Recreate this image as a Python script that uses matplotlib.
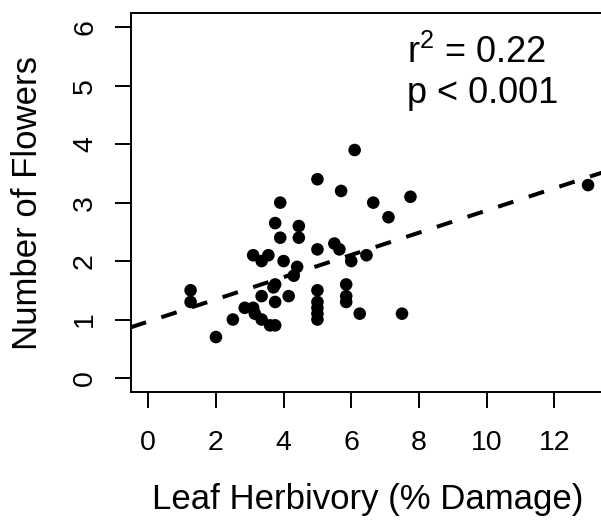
import matplotlib
matplotlib.use("Agg")
import matplotlib.pyplot as plt
import numpy as np

plt.rcParams['font.family'] = ['Liberation Sans', 'DejaVu Sans']
plt.rcParams['mathtext.fontset'] = 'custom'
plt.rcParams['mathtext.rm'] = 'Liberation Sans'
plt.rcParams['mathtext.it'] = 'Liberation Sans'
plt.rcParams['xtick.labelsize'] = 20.5
plt.rcParams['ytick.labelsize'] = 20.5

# leaf herbivory (% damage) and flower counts per plant
herbivory = [6.1, 5.0, 5.7, 3.9, 6.65, 7.75, 7.1, 3.75, 4.45, 3.9,
             4.45, 5.0, 5.5, 5.65, 3.1, 3.55, 3.35, 4.0, 6.0, 6.45,
             4.4, 4.3, 3.75, 3.7, 1.25, 1.25, 3.35, 4.15, 3.75, 5.0,
             5.0, 5.0, 5.0, 5.0, 5.85, 5.85, 5.85, 6.25, 7.5, 2.5,
             2.85, 3.1, 3.15, 3.35, 3.6, 3.75, 2.0, 13.0]
flowers = [3.9, 3.4, 3.2, 3.0, 3.0, 3.1, 2.75, 2.65, 2.6, 2.4,
           2.4, 2.2, 2.3, 2.2, 2.1, 2.1, 2.0, 2.0, 2.0, 2.1,
           1.9, 1.75, 1.6, 1.55, 1.5, 1.3, 1.4, 1.4, 1.3, 1.5,
           1.3, 1.2, 1.1, 1.0, 1.6, 1.4, 1.3, 1.1, 1.1, 1.0,
           1.2, 1.2, 1.1, 1.0, 0.9, 0.9, 0.7, 3.3]

# fitted regression line
intercept = 0.965
slope = 0.19

x_ticks = [0, 2, 4, 6, 8, 10, 12]
y_ticks = [0, 1, 2, 3, 4, 5, 6]

fig = plt.figure(figsize=(6.01, 5.20), dpi=100)
ax = fig.add_axes([0.2175, 0.2462, 0.7902, 0.7283])

ax.scatter(herbivory, flowers, s=82, color='black', edgecolors='none', zorder=3)

xl = (-0.52, 13.52)
xx = np.array(xl)
ax.plot(xx, intercept + slope * xx, color='black', lw=2.9,
        linestyle=(0, (4, 4)), dash_capstyle='butt', zorder=2)

ax.set_xlim(*xl)
ax.set_ylim(-0.24, 6.24)
ax.set_xticks(x_ticks)
ax.set_yticks(y_ticks)

for sp in ax.spines.values():
    sp.set_linewidth(1.4)

ax.tick_params(axis='both', direction='out', length=11.5, width=1.4)
ax.tick_params(axis='x', pad=16)
ax.tick_params(axis='y', pad=12)
for lab in ax.get_yticklabels():
    lab.set_rotation(90)
    lab.set_va('center')

ax.set_xlabel('Leaf Herbivory (% Damage)', fontsize=25, labelpad=19)
ax.set_ylabel('Number of Flowers', fontsize=25, labelpad=20)

ax.text(7.65, 5.39, r'r$^{2}$ = 0.22', fontsize=26, va='baseline', ha='left')
ax.text(7.65, 4.71, 'p < 0.001', fontsize=26, va='baseline', ha='left')

fig.savefig('out.png', dpi=100)
